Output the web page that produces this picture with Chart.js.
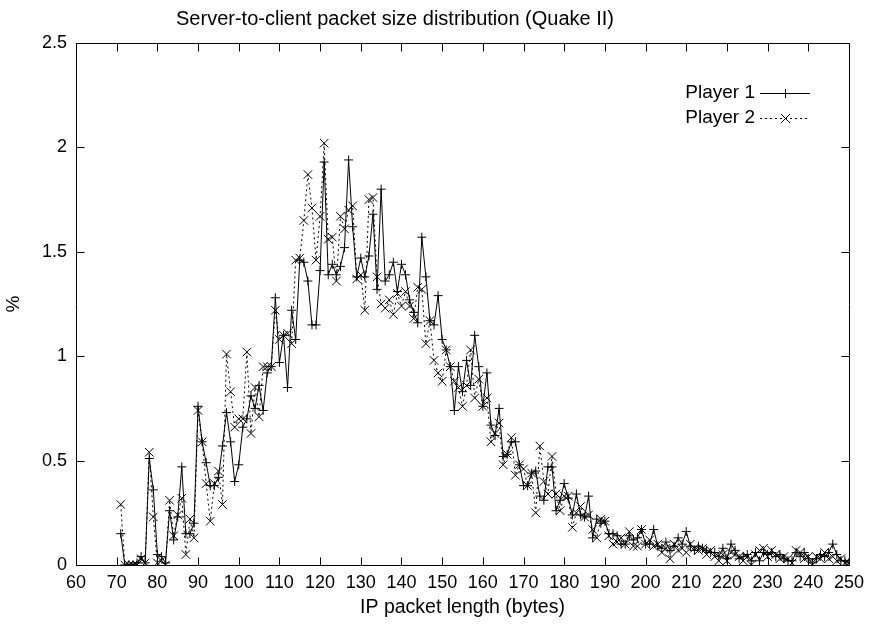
<!DOCTYPE html>
<html>
<head>
<meta charset="utf-8">
<script src="https://cdn.jsdelivr.net/npm/chart.js@4/dist/chart.umd.min.js"></script>
<style>
html,body{margin:0;padding:0;background:#fff;}
#wrap{width:871px;height:625px;position:relative;}
</style>
</head>
<body>
<div id="wrap"><canvas id="c" width="871" height="625"></canvas></div>
<script>
const chartTitle = "Server-to-client packet size distribution (Quake II)";
const xAxisTitle = "IP packet length (bytes)";
const yAxisTitle = "%";
const seriesNames = ["Player 1", "Player 2"];

const packetLengths = [
 71,72,73,74,75,76,77,78,79,80,81,82,83,84,85,86,87,88,89,90,
 91,92,93,94,95,96,97,98,99,100,101,102,103,104,105,106,107,108,109,110,
 111,112,113,114,115,116,117,118,119,120,121,122,123,124,125,126,127,128,129,130,
 131,132,133,134,135,136,137,138,139,140,141,142,143,144,145,146,147,148,149,150,
 151,152,153,154,155,156,157,158,159,160,161,162,163,164,165,166,167,168,169,170,
 171,172,173,174,175,176,177,178,179,180,181,182,183,184,185,186,187,188,189,190,
 191,192,193,194,195,196,197,198,199,200,201,202,203,204,205,206,207,208,209,210,
 211,212,213,214,215,216,217,218,219,220,221,222,223,224,225,226,227,228,229,230,
 231,232,233,234,235,236,237,238,239,240,241,242,243,244,245,246,247,248,249,250
];

const player1 = [
 0.15,0.00,0.00,0.00,0.01,0.04,0.01,0.51,0.36,0.05,0.04,0.01,0.26,0.12,0.23,0.47,0.15,0.15,0.20,0.76,
 0.59,0.49,0.38,0.38,0.42,0.57,0.73,0.59,0.40,0.48,0.66,0.70,0.81,0.75,0.86,0.74,0.92,0.95,1.28,0.97,
 1.10,0.85,1.22,1.08,1.46,1.45,1.36,1.15,1.15,1.41,1.93,1.39,1.44,1.39,1.43,1.52,1.94,1.62,1.38,1.47,
 1.38,1.48,1.68,1.32,1.80,1.36,1.39,1.45,1.31,1.44,1.39,1.27,1.21,1.16,1.57,1.38,1.17,1.15,1.29,1.08,
 1.03,0.95,0.74,0.95,0.83,0.98,0.86,1.10,0.95,0.76,0.92,0.67,0.62,0.75,0.52,0.53,0.59,0.59,0.48,0.38,
 0.38,0.44,0.45,0.33,0.31,0.47,0.47,0.26,0.31,0.39,0.32,0.24,0.34,0.24,0.23,0.33,0.13,0.22,0.20,0.21,
 0.15,0.15,0.14,0.10,0.10,0.14,0.12,0.13,0.17,0.10,0.10,0.17,0.09,0.08,0.11,0.07,0.09,0.13,0.10,0.16,
 0.09,0.07,0.09,0.08,0.07,0.06,0.06,0.04,0.08,0.03,0.10,0.07,0.03,0.04,0.05,0.02,0.06,0.02,0.06,0.05,
 0.06,0.04,0.05,0.03,0.02,0.02,0.06,0.04,0.06,0.03,0.01,0.03,0.05,0.04,0.06,0.10,0.05,0.02,0.02,0.01
];

const player2 = [
 0.29,0.00,0.00,0.00,0.00,0.03,0.01,0.54,0.23,0.01,0.02,0.00,0.31,0.14,0.24,0.32,0.05,0.22,0.13,0.74,
 0.59,0.39,0.21,0.39,0.45,0.29,1.01,0.83,0.66,0.70,0.70,1.02,0.63,0.85,0.71,0.95,0.95,0.95,1.22,1.08,
 1.10,1.11,1.06,1.46,1.47,1.65,1.87,1.71,1.46,1.67,2.02,1.56,1.57,1.36,1.67,1.61,1.70,1.72,1.37,1.39,
 1.22,1.75,1.76,1.38,1.25,1.23,1.27,1.20,1.30,1.24,1.31,1.24,1.18,1.33,1.32,1.06,1.17,0.98,0.92,0.88,
 1.03,0.95,0.88,0.85,0.76,0.86,1.03,0.80,0.89,0.76,0.80,0.59,0.63,0.68,0.48,0.53,0.61,0.43,0.48,0.46,
 0.38,0.44,0.25,0.57,0.40,0.34,0.52,0.34,0.26,0.33,0.33,0.18,0.25,0.28,0.23,0.24,0.17,0.13,0.22,0.21,
 0.14,0.10,0.11,0.13,0.10,0.16,0.09,0.09,0.17,0.10,0.12,0.09,0.10,0.06,0.08,0.03,0.10,0.07,0.08,0.06,
 0.10,0.08,0.07,0.08,0.05,0.07,0.04,0.02,0.05,0.02,0.06,0.05,0.04,0.02,0.04,0.00,0.05,0.07,0.08,0.04,
 0.07,0.05,0.03,0.04,0.03,0.01,0.07,0.06,0.03,0.04,0.00,0.04,0.03,0.06,0.03,0.04,0.02,0.03,0.01,0.01
];

const FONT = "'Liberation Sans', Arial, Helvetica, sans-serif";

// frame + inward ticks (gnuplot style), title and legend
const framePlugin = {
  id: 'frame',
  afterDraw(chart) {
    const ctx = chart.ctx;
    const a = chart.chartArea;
    const xs = chart.scales.x, ys = chart.scales.y;
    const L = Math.round(a.left) + 0.5, R = Math.round(a.right) + 0.5;
    const T = Math.round(a.top) + 0.5, B = Math.round(a.bottom) + 0.5;
    const tl = 8;
    ctx.save();
    ctx.strokeStyle = '#000';
    ctx.lineWidth = 1;
    ctx.setLineDash([]);
    ctx.beginPath();
    ctx.rect(L, T, R - L, B - T);
    xs.ticks.forEach(t => {
      const p = Math.round(xs.getPixelForValue(t.value)) + 0.5;
      ctx.moveTo(p, B); ctx.lineTo(p, B - tl);
      ctx.moveTo(p, T); ctx.lineTo(p, T + tl);
    });
    ys.ticks.forEach(t => {
      const p = Math.round(ys.getPixelForValue(t.value)) + 0.5;
      ctx.moveTo(L, p); ctx.lineTo(L + tl, p);
      ctx.moveTo(R, p); ctx.lineTo(R - tl, p);
    });
    ctx.stroke();

    // title
    ctx.fillStyle = '#000';
    ctx.font = '20px ' + FONT;
    ctx.textAlign = 'center';
    ctx.textBaseline = 'middle';
    ctx.fillText(chartTitle, 395, 19);

    // legend
    ctx.font = '19px ' + FONT;
    const items = [
      {name: seriesNames[0], y: 93, dash: [], style: 'plus'},
      {name: seriesNames[1], y: 118, dash: [2, 3], style: 'x'}
    ];
    items.forEach(it => {
      ctx.textAlign = 'right';
      ctx.textBaseline = 'middle';
      ctx.fillText(it.name, 755, it.y);
      ctx.beginPath();
      ctx.setLineDash(it.dash);
      ctx.moveTo(760, it.y + 0.5); ctx.lineTo(810, it.y + 0.5);
      ctx.stroke();
      ctx.setLineDash([]);
      ctx.beginPath();
      if (it.style === 'plus') {
        ctx.moveTo(785.5, it.y - 4); ctx.lineTo(785.5, it.y + 5);
        ctx.moveTo(781, it.y + 0.5); ctx.lineTo(790, it.y + 0.5);
      } else {
        ctx.moveTo(781, it.y - 4); ctx.lineTo(790, it.y + 5);
        ctx.moveTo(790, it.y - 4); ctx.lineTo(781, it.y + 5);
      }
      ctx.stroke();
    });
    ctx.restore();
  }
};

new Chart(document.getElementById('c'), {
  type: 'line',
  data: {
    datasets: [
      {
        label: seriesNames[0],
        data: packetLengths.map((x, i) => ({x: x, y: player1[i]})),
        borderColor: '#000',
        borderWidth: 1,
        pointStyle: 'cross',
        pointRadius: 4.5,
        pointBorderWidth: 1,
        pointBorderColor: '#000',
        pointBackgroundColor: '#000',
        tension: 0,
        fill: false
      },
      {
        label: seriesNames[1],
        data: packetLengths.map((x, i) => ({x: x, y: player2[i]})),
        borderColor: '#000',
        borderWidth: 1,
        borderDash: [2, 3],
        pointStyle: 'crossRot',
        pointRadius: 6,
        pointBorderWidth: 1,
        pointBorderColor: '#000',
        pointBackgroundColor: '#000',
        tension: 0,
        fill: false
      }
    ]
  },
  options: {
    responsive: false,
    animation: false,
    devicePixelRatio: 1,
    layout: {padding: {left: 0, right: 19, top: 43, bottom: 0}},
    plugins: {
      legend: {display: false},
      title: {display: false},
      tooltip: {enabled: false}
    },
    scales: {
      x: {
        type: 'linear',
        min: 60, max: 250,
        grid: {display: false, drawTicks: false},
        border: {display: false},
        ticks: {stepSize: 10, color: '#000', font: {family: FONT, size: 18}, padding: 7, maxRotation: 0, autoSkip: false},
        title: {display: true, text: xAxisTitle, color: '#000', font: {family: FONT, size: 19.5}, padding: {top: 0, bottom: 6}},
        afterFit(s) { s.height = 60; }
      },
      y: {
        min: 0, max: 2.5,
        grid: {display: false, drawTicks: false},
        border: {display: false},
        ticks: {stepSize: 0.5, color: '#000', font: {family: FONT, size: 18}, padding: 9,
                callback: v => String(v)},
        title: {display: true, text: yAxisTitle, color: '#000', font: {family: FONT, size: 19}, padding: {top: 2, bottom: 0}},
        afterFit(s) { s.width = 76; }
      }
    }
  },
  plugins: [framePlugin]
});
</script>
</body>
</html>
